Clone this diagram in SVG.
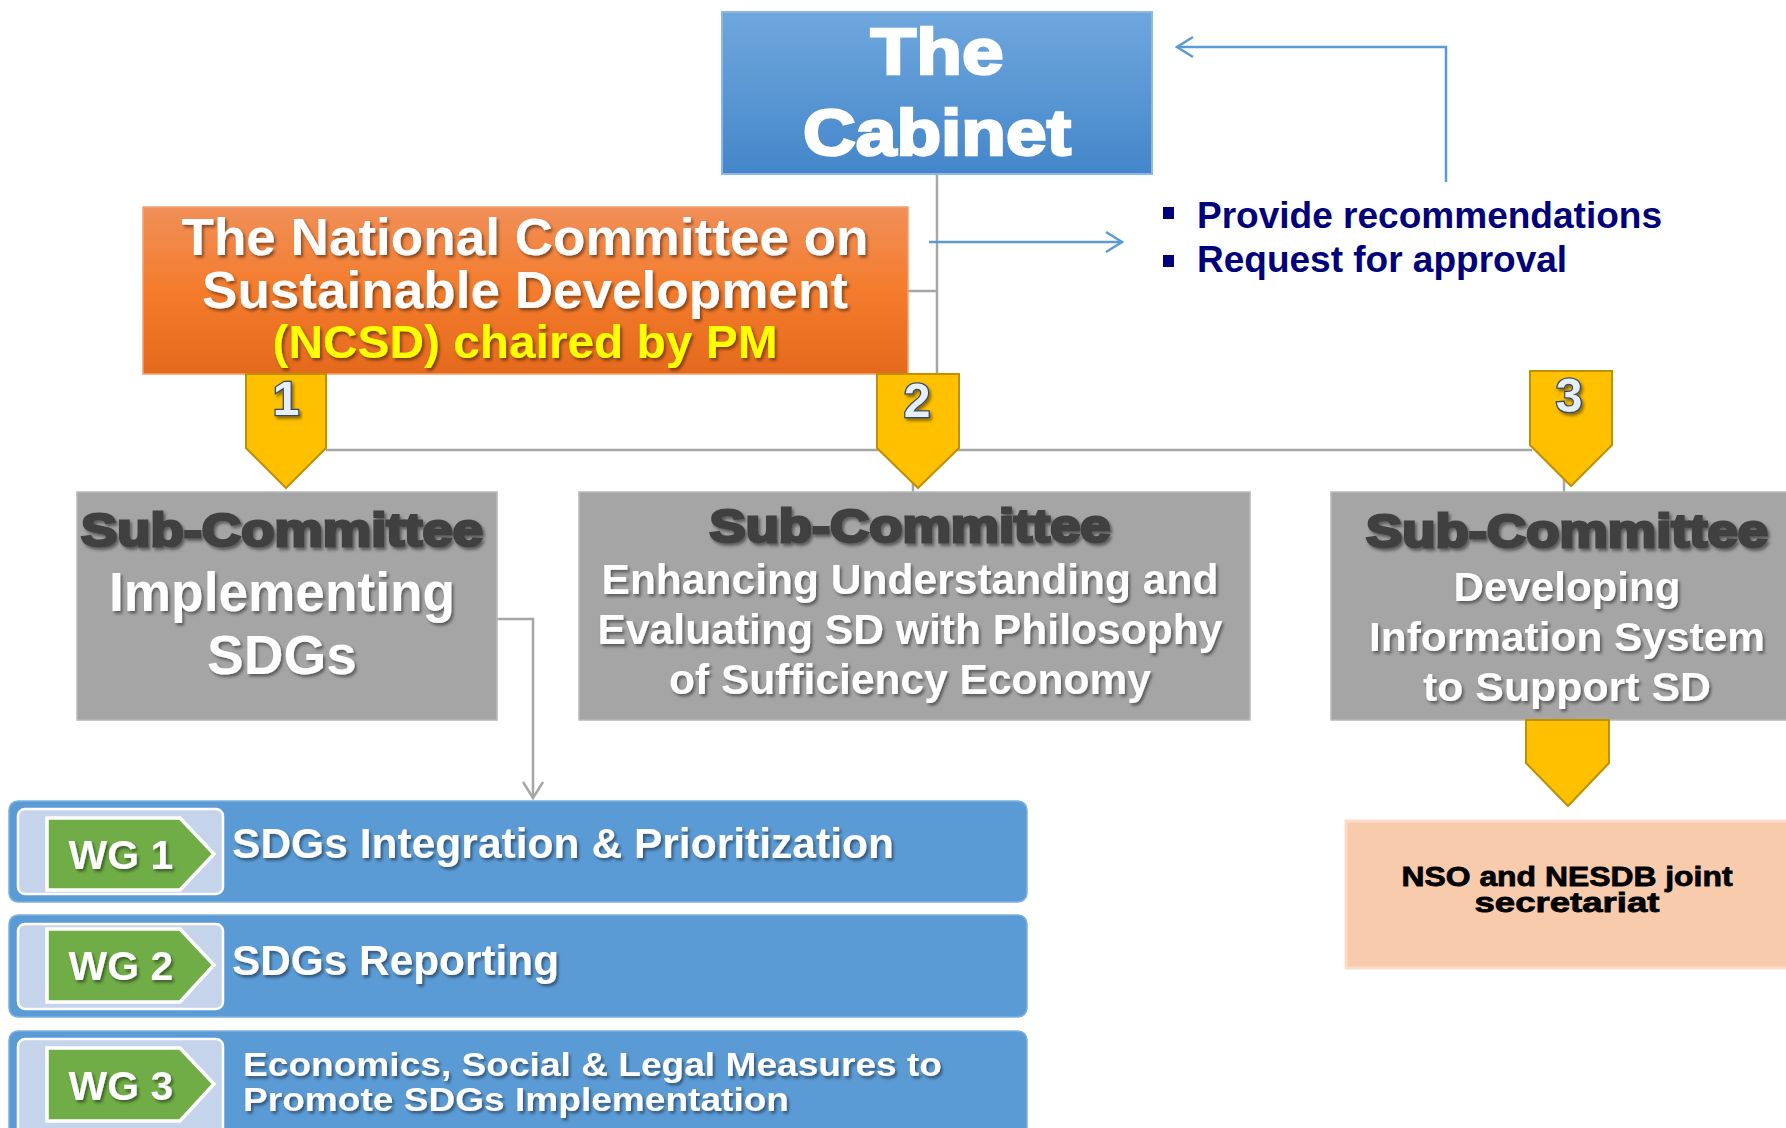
<svg xmlns="http://www.w3.org/2000/svg" width="1786" height="1128" viewBox="0 0 1786 1128">
  <defs>
    <linearGradient id="gCabinet" x1="0" y1="0" x2="0" y2="1">
      <stop offset="0" stop-color="#6FA7DD"/>
      <stop offset="1" stop-color="#4486CA"/>
    </linearGradient>
    <linearGradient id="gNcsd" x1="0" y1="0" x2="0" y2="1">
      <stop offset="0" stop-color="#F08F58"/>
      <stop offset="0.5" stop-color="#F47C2C"/>
      <stop offset="1" stop-color="#E4691C"/>
    </linearGradient>
    <filter id="shadow" x="-10%" y="-30%" width="120%" height="160%">
      <feDropShadow dx="2" dy="2.5" stdDeviation="1.5" flood-color="#000" flood-opacity="0.45"/>
    </filter>
    <marker id="arrowBlue" viewBox="0 0 20 24" refX="18" refY="12" markerWidth="20" markerHeight="24" markerUnits="userSpaceOnUse" orient="auto">
      <path d="M2,2 L18,12 L2,22" fill="none" stroke="#5B9BD5" stroke-width="2.5"/>
    </marker>
    <marker id="arrowGray" viewBox="0 0 20 24" refX="18" refY="12" markerWidth="20" markerHeight="24" markerUnits="userSpaceOnUse" orient="auto">
      <path d="M2,2 L18,12 L2,22" fill="none" stroke="#A6A6A6" stroke-width="2.5"/>
    </marker>
    <style>
      text { font-family: "Liberation Sans", Arial, sans-serif; font-weight: bold; }
      .white { fill: #FFFFFF; }
      .heavyWhite { fill: #FFFFFF; stroke: #FFFFFF; stroke-width: 2.5; paint-order: stroke; }
      .subHead { fill: #404040; stroke: #404040; stroke-width: 2.8; paint-order: stroke; }
      .yellow { fill: #FFFF00; }
      .navy { fill: #00007A; }
      .num { fill: #E8EEF6; stroke: #2E4A70; stroke-width: 2.5; paint-order: stroke; font-weight: bold; }
      .conn { fill: none; stroke: #A6A6A6; stroke-width: 2.5; }
      .connBlue { fill: none; stroke: #5B9BD5; stroke-width: 2.5; }
      .badge { fill: #FFC000; stroke: #BF9000; stroke-width: 2; }
      .subBox { fill: #A5A5A5; stroke: #B8B8B8; stroke-width: 1.5; }
      .wgBar { fill: #5B9BD5; stroke: #7DB0E0; stroke-width: 1.5; }
      .wgTab { fill: #C5D4EA; stroke: #FFFFFF; stroke-width: 2.5; }
      .wgTag { fill: #70AD47; stroke: #FFFFFF; stroke-width: 3.5; }
      .secText { fill: #000000; stroke: #000000; stroke-width: 0.8; }
    </style>
  </defs>

  <rect width="1786" height="1128" fill="#FFFFFF"/>

  <!-- connectors -->
  <g id="connectors">
    <path class="conn" d="M937,174 V376"/>
    <path class="conn" d="M908,291 H937"/>
    <path class="conn" d="M326,450 H1532"/>
    <path class="conn" d="M913,450 V493"/>
    <path class="conn" d="M1564,450 V493"/>
    <path class="conn" d="M497,619 H533 V798" marker-end="url(#arrowGray)"/>
    <path class="connBlue" d="M929,242 H1122" marker-end="url(#arrowBlue)"/>
    <path class="connBlue" d="M1446,182 V47 H1177" marker-end="url(#arrowBlue)"/>
  </g>

  <!-- top level -->
  <g id="cabinet">
    <rect x="722" y="12" width="430" height="162" fill="url(#gCabinet)" stroke="#8CB8E4" stroke-width="2"/>
    <text class="heavyWhite" x="937" y="74" font-size="64" text-anchor="middle" textLength="133" lengthAdjust="spacingAndGlyphs">The</text>
    <text class="heavyWhite" x="937" y="155" font-size="64" text-anchor="middle" textLength="268" lengthAdjust="spacingAndGlyphs">Cabinet</text>
  </g>

  <g id="actions">
    <rect x="1163" y="207" width="11" height="12" fill="#00007A"/>
    <text class="navy" x="1197" y="228" font-size="37" textLength="465" lengthAdjust="spacingAndGlyphs">Provide recommendations</text>
    <rect x="1163" y="255" width="11" height="12" fill="#00007A"/>
    <text class="navy" x="1197" y="272" font-size="37">Request for approval</text>
  </g>

  <g id="ncsd">
    <rect x="143" y="207" width="765" height="167" fill="url(#gNcsd)" stroke="#F4A070" stroke-width="1.5"/>
    <g filter="url(#shadow)">
      <text class="white" x="525" y="255" font-size="52" text-anchor="middle" textLength="687" lengthAdjust="spacingAndGlyphs">The National Committee on</text>
      <text class="white" x="525" y="308" font-size="52" text-anchor="middle" textLength="646" lengthAdjust="spacingAndGlyphs">Sustainable Development</text>
      <text class="yellow" x="525" y="358" font-size="46" text-anchor="middle" textLength="505" lengthAdjust="spacingAndGlyphs">(NCSD) chaired by PM</text>
    </g>
  </g>

  <!-- numbered pointers -->
  <g id="badge-1">
    <path class="badge" d="M246,374 H326 V448 L286,488 L246,448 Z"/>
    <text class="num" x="286" y="415" font-size="48" text-anchor="middle" filter="url(#shadow)">1</text>
  </g>
  <g id="badge-2">
    <path class="badge" d="M877,374 H959 V448 L918,488 L877,448 Z"/>
    <text class="num" x="917" y="417" font-size="48" text-anchor="middle" filter="url(#shadow)">2</text>
  </g>
  <g id="badge-3">
    <path class="badge" d="M1530,371 H1612 V445 L1571,486 L1530,445 Z"/>
    <text class="num" x="1569" y="412" font-size="48" text-anchor="middle" filter="url(#shadow)">3</text>
  </g>

  <!-- sub-committees -->
  <g id="sub-1">
    <rect class="subBox" x="77" y="492" width="420" height="228"/>
    <g filter="url(#shadow)">
      <text class="subHead" x="282" y="546" font-size="46" text-anchor="middle" textLength="402" lengthAdjust="spacingAndGlyphs">Sub-Committee</text>
      <text class="white" x="282" y="611" font-size="55" text-anchor="middle" textLength="346" lengthAdjust="spacingAndGlyphs">Implementing</text>
      <text class="white" x="282" y="674" font-size="55" text-anchor="middle">SDGs</text>
    </g>
  </g>

  <g id="sub-2">
    <rect class="subBox" x="579" y="492" width="671" height="228"/>
    <g filter="url(#shadow)">
      <text class="subHead" x="910" y="542" font-size="46" text-anchor="middle" textLength="401" lengthAdjust="spacingAndGlyphs">Sub-Committee</text>
      <text class="white" x="910" y="594" font-size="42" text-anchor="middle" textLength="617" lengthAdjust="spacingAndGlyphs">Enhancing Understanding and</text>
      <text class="white" x="910" y="644" font-size="42" text-anchor="middle" textLength="625" lengthAdjust="spacingAndGlyphs">Evaluating SD with Philosophy</text>
      <text class="white" x="910" y="694" font-size="42" text-anchor="middle" textLength="482" lengthAdjust="spacingAndGlyphs">of Sufficiency Economy</text>
    </g>
  </g>

  <g id="sub-3">
    <rect class="subBox" x="1331" y="492" width="460" height="228"/>
    <g filter="url(#shadow)">
      <text class="subHead" x="1567" y="547" font-size="46" text-anchor="middle" textLength="402" lengthAdjust="spacingAndGlyphs">Sub-Committee</text>
      <text class="white" x="1567" y="601" font-size="41" text-anchor="middle" textLength="227" lengthAdjust="spacingAndGlyphs">Developing</text>
      <text class="white" x="1567" y="651" font-size="41" text-anchor="middle" textLength="396" lengthAdjust="spacingAndGlyphs">Information System</text>
      <text class="white" x="1567" y="701" font-size="41" text-anchor="middle" textLength="288" lengthAdjust="spacingAndGlyphs">to Support SD</text>
    </g>
  </g>

  <g id="badge-secretariat">
    <path class="badge" d="M1526,720 H1609 V763 L1568,806 L1526,763 Z"/>
  </g>

  <g id="secretariat">
    <rect x="1346" y="821" width="446" height="147" fill="#F8CBAD" stroke="#FBDCC8" stroke-width="3"/>
    <text class="secText" x="1567" y="886" font-size="28" text-anchor="middle" textLength="331" lengthAdjust="spacingAndGlyphs">NSO and NESDB joint</text>
    <text class="secText" x="1567" y="912" font-size="28" text-anchor="middle" textLength="185" lengthAdjust="spacingAndGlyphs">secretariat</text>
  </g>

  <!-- working groups -->
  <g id="wg-1">
    <rect class="wgBar" x="9" y="801" width="1018" height="101" rx="9"/>
    <rect class="wgTab" x="18" y="809" width="205" height="85" rx="7"/>
    <path class="wgTag" d="M47,818 H180 L214,854 L180,890 H47 Z"/>
    <text class="white" x="121" y="869" font-size="41" text-anchor="middle" filter="url(#shadow)">WG 1</text>
    <text class="white" x="232" y="858" font-size="42" textLength="662" lengthAdjust="spacingAndGlyphs" filter="url(#shadow)">SDGs Integration &amp; Prioritization</text>
  </g>

  <g id="wg-2">
    <rect class="wgBar" x="9" y="915" width="1018" height="102" rx="9"/>
    <rect class="wgTab" x="18" y="924" width="205" height="85" rx="7"/>
    <path class="wgTag" d="M47,929 H180 L214,965 L180,1002 H47 Z"/>
    <text class="white" x="121" y="980" font-size="41" text-anchor="middle" filter="url(#shadow)">WG 2</text>
    <text class="white" x="232" y="975" font-size="42" textLength="327" lengthAdjust="spacingAndGlyphs" filter="url(#shadow)">SDGs Reporting</text>
  </g>

  <g id="wg-3">
    <rect class="wgBar" x="9" y="1031" width="1018" height="112" rx="9"/>
    <rect class="wgTab" x="18" y="1039" width="205" height="95" rx="7"/>
    <path class="wgTag" d="M47,1048 H180 L214,1084 L180,1121 H47 Z"/>
    <text class="white" x="121" y="1100" font-size="41" text-anchor="middle" filter="url(#shadow)">WG 3</text>
    <text class="white" x="243" y="1076" font-size="34" textLength="699" lengthAdjust="spacingAndGlyphs" filter="url(#shadow)">Economics, Social &amp; Legal Measures to</text>
    <text class="white" x="243" y="1111" font-size="34" textLength="546" lengthAdjust="spacingAndGlyphs" filter="url(#shadow)">Promote SDGs Implementation</text>
  </g>
</svg>
